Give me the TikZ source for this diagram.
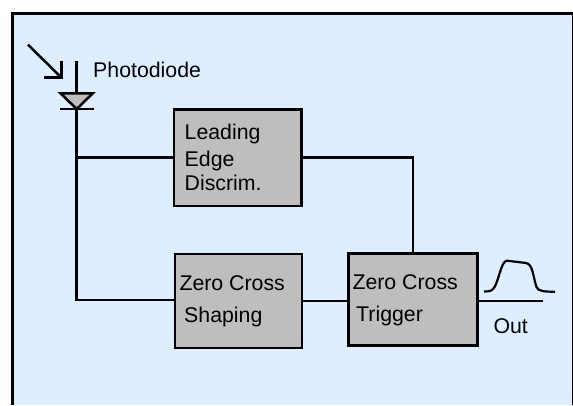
\documentclass[tikz,border=0pt]{standalone}
\usepackage{fontspec}
\setmainfont{Liberation Sans}
\definecolor{bgblue}{HTML}{DCEEFF}
\definecolor{boxgray}{HTML}{BEBEBE}
\tikzset{
  x=1pt,y=-1pt,
  wire/.style={draw=black,line width=2.5pt,line cap=butt},
  framewire/.style={draw=black,line width=3pt,line cap=butt},
  blockbox/.style={draw=black,line width=2.5pt,fill=boxgray,rectangle,inner sep=0pt,outer sep=0pt,anchor=north west},
  lbl/.style={inner sep=0pt,anchor=base west,font=\fontsize{21.3}{24}\selectfont,text=black}
}
\begin{document}
\begin{tikzpicture}
\useasboundingbox (0,0) rectangle (573,405);
\fill[white] (0,0) rectangle (573,405);
\fill[bgblue] (12.8,13.5) rectangle (573,405);
\draw[framewire,line join=miter] (12.8,405) -- (12.8,13.5) -- (573,13.5) -- (573,405);
\node[blockbox,minimum width=127.5pt,minimum height=96.5pt] (led) at (174.2,109.5) {};
\node[blockbox,minimum width=127pt,minimum height=94pt] (zcs) at (175.2,253.8) {};
\node[blockbox,minimum width=129pt,minimum height=92pt] (zct) at (348.5,253.5) {};
\coordinate (top) at (76.7,60.7);
\coordinate (dtl) at (60.5,93.3);
\coordinate (dtr) at (92.8,93.3);
\coordinate (dapex) at (76.7,109);
\coordinate (dbl) at (60,109);
\coordinate (dbr) at (93.5,109);
\coordinate (j1) at (76.7,157.3);
\coordinate (j2) at (76.7,300);
\coordinate (j3) at (413,157.3);
\coordinate (o1) at (542.5,301);
\coordinate (a1) at (28,44.7);
\coordinate (a2) at (61.5,77.7);
\draw[wire] (top) -- (76.7,93.3);
\draw[wire,fill=boxgray,line join=miter] (dtl) -- (dtr) -- (dapex) -- cycle;
\draw[wire] (dbl) -- (dbr);
\draw[wire] (dapex) -- (j1) -- (j2) -- (zcs.west |- j2);
\draw[wire] (j1) -- (led.west |- j1);
\draw[wire] (led.east |- j1) -- (j3) -- (j3 |- zct.north);
\draw[wire] (zcs.east |- o1) -- (zct.west |- o1);
\draw[wire] (zct.east |- o1) -- (o1);
\draw[wire,line join=miter] (a1) -- (a2);
\draw[wire,line join=miter] (61.5,60.7) -- (a2) -- (44,77.7);
\draw[black,line width=2.2pt] (484,291.5) .. controls (491,291.5) and (493,291) .. (496,284) .. controls (500,274) and (502,261) .. (507,260.7) -- (526,263) .. controls (533,264) and (533,277) .. (536.5,287) .. controls (538,291.5) and (545,291.7) .. (555,291.7);
\node[lbl] (t0) at (93,77.5) {Photodiode};
\node[lbl] (t1) at (184.5,139) {Leading};
\node[lbl] (t2) at (184.5,166) {Edge};
\node[lbl] (t3) at (184.5,190.7) {Discrim.};
\node[lbl] (t4) at (179.3,290) {Zero Cross};
\node[lbl] (t5) at (184,322.5) {Shaping};
\node[lbl] (t6) at (352.3,289) {Zero Cross};
\node[lbl] (t7) at (356,321.5) {Trigger};
\node[lbl] (t8) at (493.3,333.3) {Out};
\end{tikzpicture}
\end{document}
